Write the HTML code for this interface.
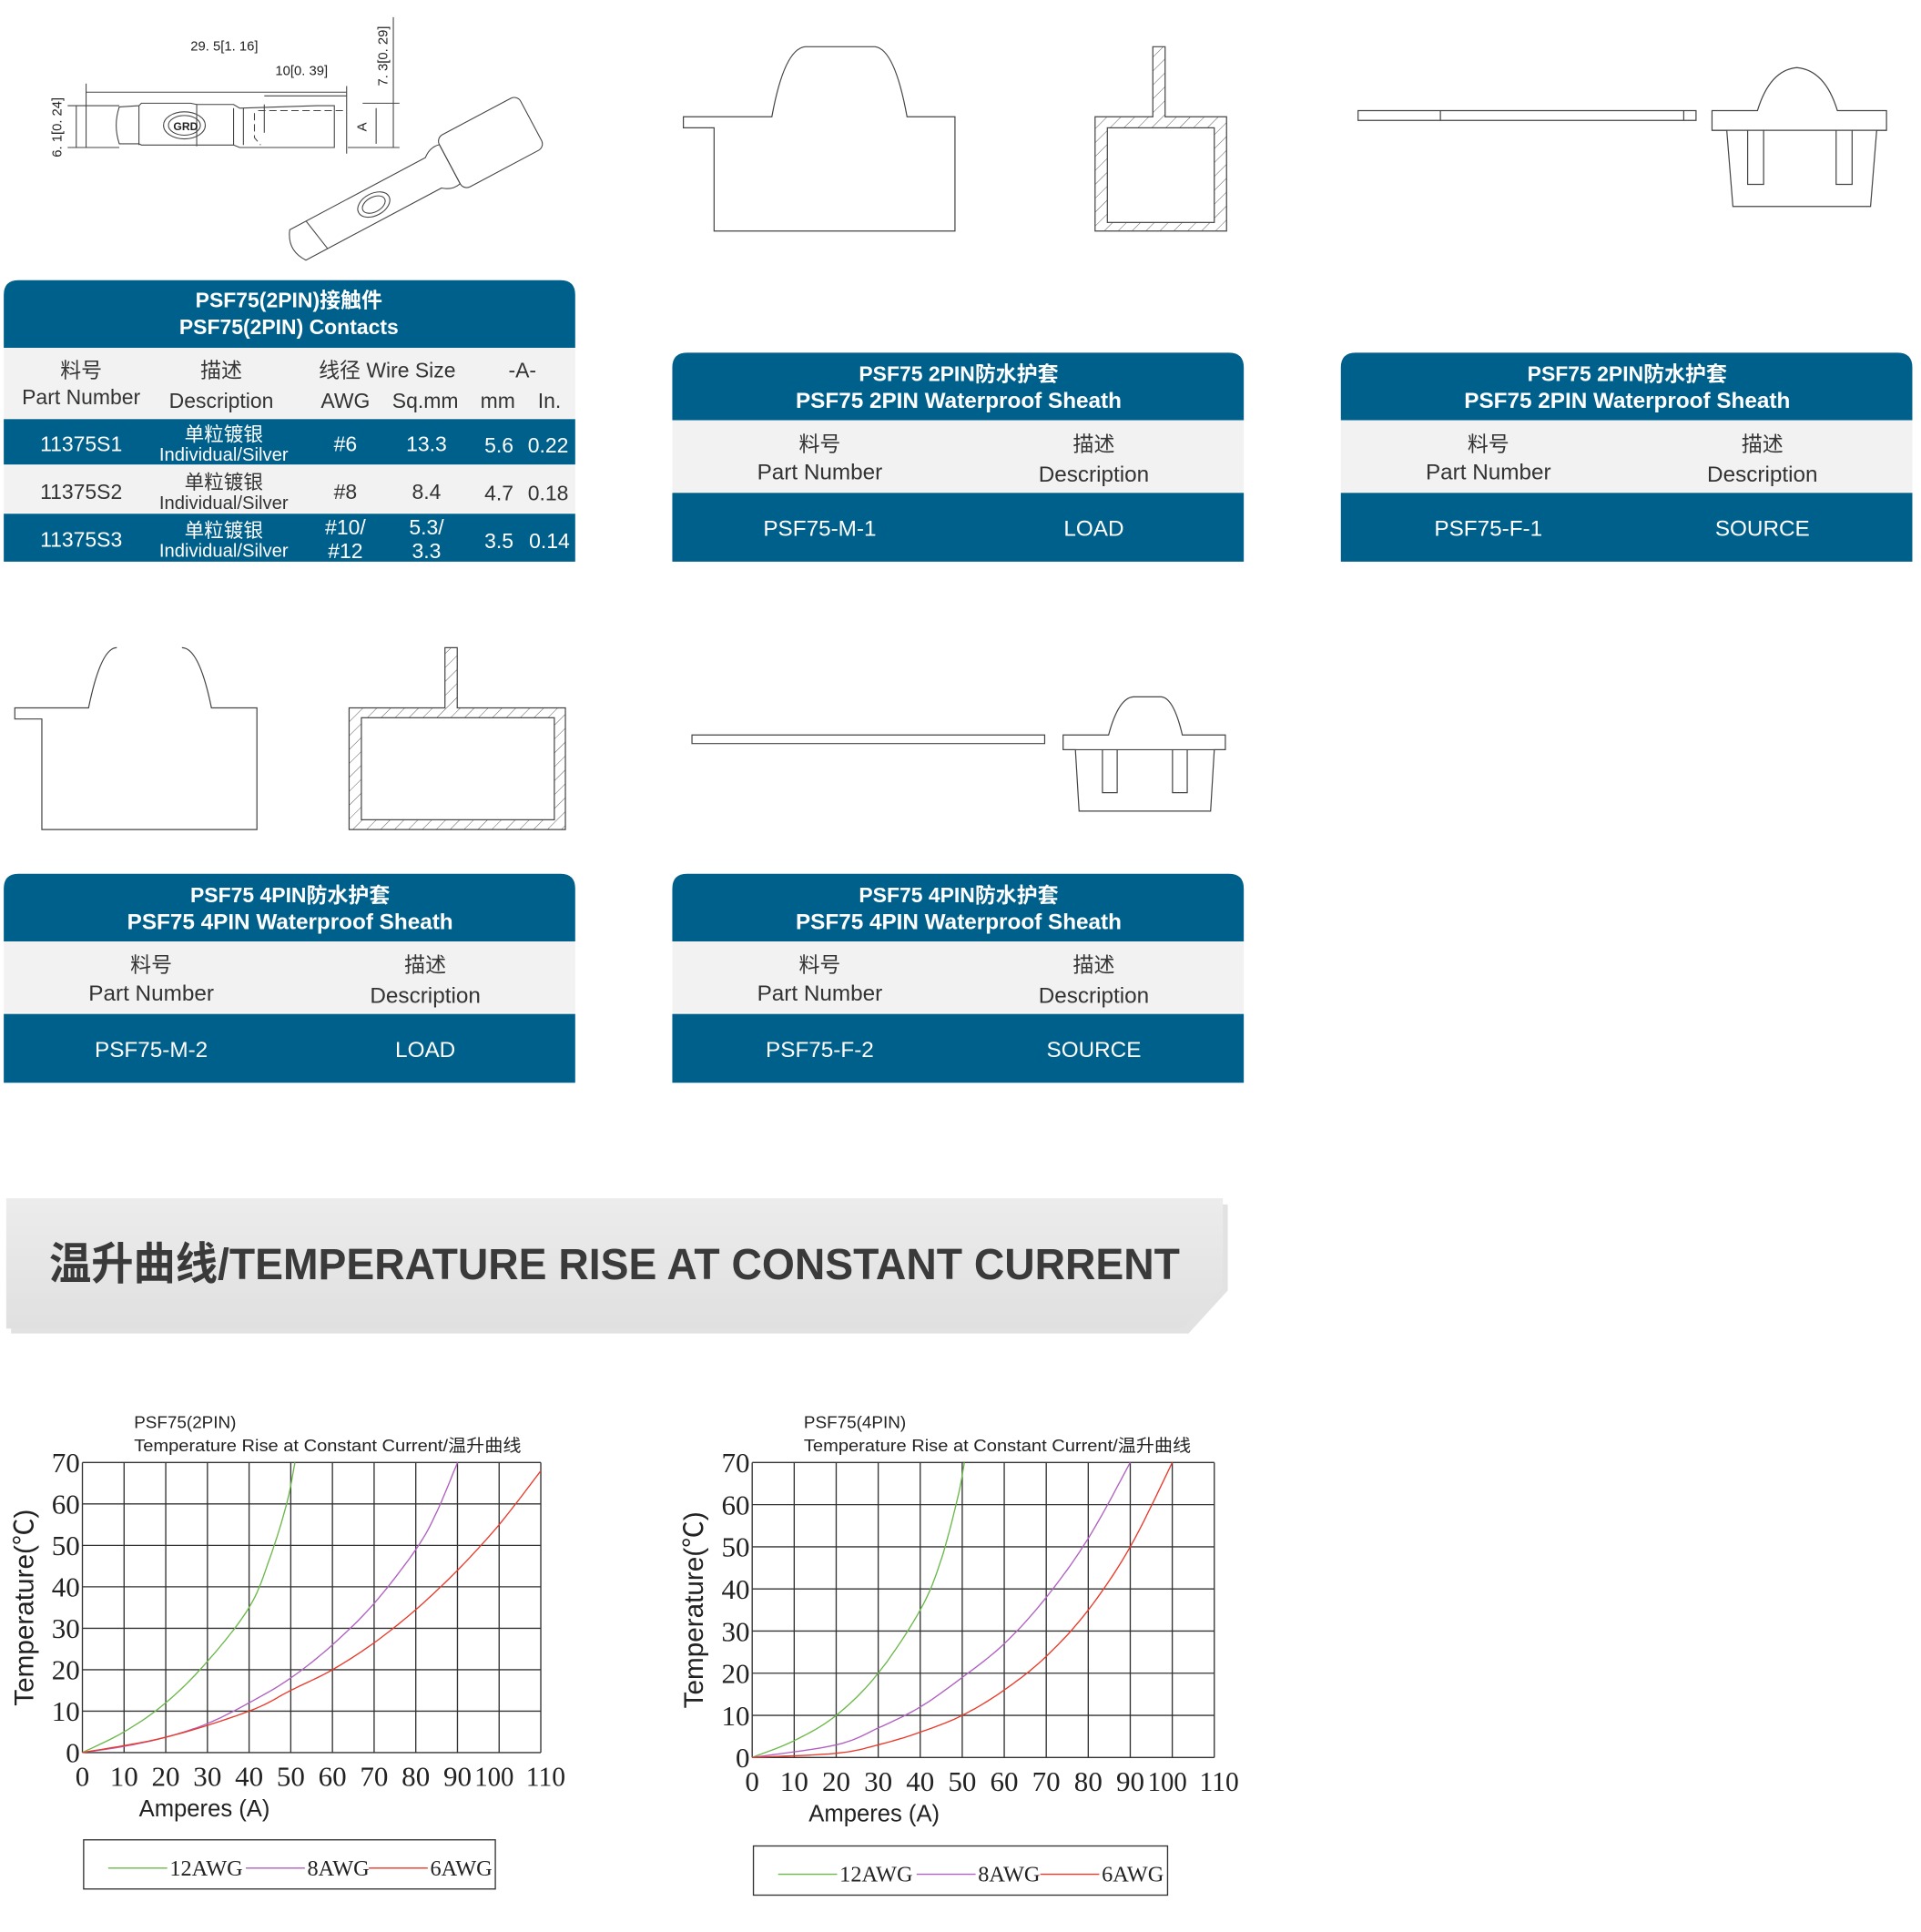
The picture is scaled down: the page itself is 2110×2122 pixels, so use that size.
<!DOCTYPE html>
<html><head><meta charset="utf-8"><style>
html,body{margin:0;padding:0;background:#fff}
svg{display:block}
.t{font-family:"Liberation Sans","Noto Sans CJK SC",sans-serif}
.s{font-family:"Liberation Serif","Noto Serif CJK SC",serif}
</style></head><body>
<svg id="sv" width="2110" height="2122" viewBox="0 0 1563 1572" xmlns="http://www.w3.org/2000/svg">
<defs>
<linearGradient id="bg" x1="0" y1="0" x2="0" y2="1"><stop offset="0" stop-color="#ececec"/><stop offset="1" stop-color="#e0e0e0"/></linearGradient>
<pattern id="hat" width="8" height="8" patternUnits="userSpaceOnUse" patternTransform="rotate(45)"><line x1="0" y1="0" x2="0" y2="8" stroke="#555" stroke-width="0.7"/></pattern>
</defs>
<g fill="none" stroke="#444" stroke-width="0.8">
<path d="M97 87 L113 86 L115 84 L155 84 L160 85 L190 85 L195 88 L258 86 L258 86 L272 86 L272 120 L195 120 L190 118 L115 118 L113 117 L97 117 Q92 102 97 87Z"/>
<line x1="113" y1="86" x2="113" y2="118"/><line x1="160" y1="85" x2="160" y2="119"/><line x1="190" y1="88" x2="190" y2="118"/><line x1="198" y1="88" x2="198" y2="118"/>
<path d="M210 90 L282 90 M207 92 L207 112 L212 118" stroke-dasharray="6 3"/>
<ellipse cx="150" cy="102" rx="17" ry="11"/><ellipse cx="150" cy="102" rx="13" ry="8"/>
<line x1="70" y1="68" x2="70" y2="120"/><line x1="70" y1="75" x2="282" y2="75"/><line x1="282" y1="70" x2="282" y2="125"/>
<line x1="215" y1="108" x2="215" y2="85"/><line x1="215" y1="78" x2="282" y2="78"/>
<line x1="55" y1="86" x2="97" y2="86"/><line x1="55" y1="120" x2="97" y2="120"/><line x1="62" y1="86" x2="62" y2="120"/>
<line x1="295" y1="84" x2="325" y2="84"/><line x1="283" y1="120" x2="325" y2="120"/><line x1="320" y1="14" x2="320" y2="120"/><line x1="306" y1="88" x2="306" y2="117"/>
<g transform="translate(335,150) rotate(-28)">
<path d="M-105 -14 L20 -14 Q27 -20 35 -18 L35 18 Q27 20 20 14 L-105 14 Q-115 0 -105 -14Z"/>
<rect x="35" y="-24" width="75" height="48" rx="6"/>
<ellipse cx="-35" cy="0" rx="14" ry="9"/><ellipse cx="-35" cy="0" rx="10" ry="6"/>
<line x1="-90" y1="-14" x2="-85" y2="14"/>
</g>
</g>
<g class="t" font-size="11" fill="#222">
<text x="155" y="41">29. 5[1. 16]</text><text x="224" y="61">10[0. 39]</text>
<text transform="translate(50,128) rotate(-90)">6. 1[0. 24]</text>
<text transform="translate(315,70) rotate(-90)">7. 3[0. 29]</text>
<text transform="translate(298,107) rotate(-90)">A</text>
<text x="141" y="106" font-size="9" font-weight="bold">GRD</text>
</g>
<g fill="none" stroke="#444" stroke-width="0.9">
<path d="M581 188 L581 104 L556 104 L556 95 L628 95 Q638 40 655 38 L712 38 Q728 40 738 95 L777 95 L777 188Z"/>
<path d="M891 188 L891 95 L938 95 L938 38 L948 38 L948 95 L998 95 L998 188Z" fill="url(#hat)"/>
<rect x="901" y="104" width="87" height="77" fill="#fff"/>
<path d="M1105 90 L1380 90 L1380 98 L1105 98Z M1172 90 L1172 98 M1370 90 L1370 98"/>
<path d="M1393 90 L1430 90 Q1440 57 1462 55 Q1485 57 1495 90 L1535 90 L1535 106 L1527 106 L1522 168 L1410 168 L1405 106 L1393 106Z"/>
<line x1="1393" y1="106" x2="1535" y2="106"/><path d="M1422 106 L1422 150 L1435 150 L1435 106 M1494 106 L1494 150 L1507 150 L1507 106"/>
<path d="M95 527 Q82 527 72 576 L12 576 L12 585 L34 585 L34 675 L209 675 L209 576 L172 576 Q162 527 148 527"/>
<path d="M284 675 L284 576 L362 576 L362 527 L372 527 L372 576 L460 576 L460 675Z" fill="url(#hat)"/>
<rect x="294" y="584" width="157" height="83" fill="#fff"/>
<path d="M563 598 L850 598 L850 605 L563 605Z"/>
<path d="M865 598 L902 598 Q910 568 922 567 L945 567 Q955 568 962 598 L997 598 L997 610 L988 610 L985 660 L878 660 L875 610 L865 610Z"/>
<line x1="865" y1="610" x2="997" y2="610"/><path d="M897 610 L897 645 L909 645 L909 610 M954 610 L954 645 L966 645 L966 610"/>
</g>
<g class="t" text-anchor="middle">
<path d="M3 283 L3 240 Q3 228 15 228 L456 228 Q468 228 468 240 L468 283Z" fill="#00608c"/>
<rect x="3" y="283" width="465" height="57" fill="#f2f2f2"/>
<rect x="3" y="341" width="465" height="37" fill="#00608c"/>
<rect x="3" y="379" width="465" height="38" fill="#f2f2f2"/>
<rect x="3" y="418" width="465" height="39" fill="#00608c"/>
<g fill="#fff" font-weight="bold" font-size="17"><text x="235" y="250">PSF75(2PIN)接触件</text><text x="235" y="272">PSF75(2PIN) Contacts</text></g>
<g fill="#333" font-size="17"><text x="66" y="307">料号</text><text x="66" y="329">Part Number</text><text x="180" y="307">描述</text><text x="180" y="332">Description</text><text x="315" y="307">线径 Wire Size</text><text x="281" y="332">AWG</text><text x="346" y="332">Sq.mm</text><text x="425" y="307">-A-</text><text x="405" y="332">mm</text><text x="447" y="332">In.</text></g>
<g font-size="17" fill="#fff"><text x="66" y="367">11375S1</text><text x="281" y="367">#6</text><text x="347" y="367">13.3</text><text x="406" y="368">5.6</text><text x="446" y="368">0.22</text>
<text x="182" y="359" font-size="16">单粒镀银</text><text x="182" y="375" font-size="15">Individual/Silver</text></g>
<g font-size="17" fill="#333"><text x="66" y="406">11375S2</text><text x="281" y="406">#8</text><text x="347" y="406">8.4</text><text x="406" y="407">4.7</text><text x="446" y="407">0.18</text>
<text x="182" y="398" font-size="16">单粒镀银</text><text x="182" y="414" font-size="15">Individual/Silver</text></g>
<g font-size="17" fill="#fff"><text x="66" y="445">11375S3</text><text x="281" y="435">#10/</text><text x="281" y="454">#12</text><text x="347" y="435">5.3/</text><text x="347" y="454">3.3</text><text x="406" y="446">3.5</text><text x="447" y="446">0.14</text>
<text x="182" y="437" font-size="16">单粒镀银</text><text x="182" y="453" font-size="15">Individual/Silver</text></g>
</g>
<g id="tb" class="t" text-anchor="middle"></g>
<path d="M9 980 L999 980 L999 1050 L967 1085 L9 1085Z" fill="#cfcfcf" opacity="0.6"/>
<path d="M5 975 L995 975 L995 1048 L962 1081 L5 1081Z" fill="url(#bg)"/>
<text x="40" y="1041" class="t" font-size="36" font-weight="bold" fill="#3a3a3a" textLength="920" lengthAdjust="spacingAndGlyphs">温升曲线/TEMPERATURE RISE AT CONSTANT CURRENT</text>
<g id="ch"></g>
</svg>
<script>
var NS="http://www.w3.org/2000/svg",sv=document.getElementById('sv');
function el(p,t,a,txt){var e=document.createElementNS(NS,t);for(var k in a)if(a[k]!=null)e.setAttribute(k,a[k]);if(txt!=null)e.textContent=txt;p.appendChild(e);return e;}
var tb=document.getElementById('tb');
function tbl(x,y,h1,h2,pn,ds){
 el(tb,'path',{d:'M'+x+' '+(y+55)+' L'+x+' '+(y+12)+' Q'+x+' '+y+' '+(x+12)+' '+y+' L'+(x+453)+' '+y+' Q'+(x+465)+' '+y+' '+(x+465)+' '+(y+12)+' L'+(x+465)+' '+(y+55)+'Z',fill:'#00608c'});
 el(tb,'rect',{x:x,y:y+55,width:465,height:58,fill:'#f2f2f2'});
 el(tb,'rect',{x:x,y:y+114,width:465,height:56,fill:'#00608c'});
 el(tb,'text',{x:x+233,y:y+23,fill:'#fff','font-weight':'bold','font-size':17},h1);
 el(tb,'text',{x:x+233,y:y+45,fill:'#fff','font-weight':'bold','font-size':18},h2);
 var a=x+120,b=x+343;
 el(tb,'text',{x:a,y:y+80,fill:'#333','font-size':17},'料号');el(tb,'text',{x:a,y:y+103,fill:'#333','font-size':18},'Part Number');
 el(tb,'text',{x:b,y:y+80,fill:'#333','font-size':17},'描述');el(tb,'text',{x:b,y:y+105,fill:'#333','font-size':18},'Description');
 el(tb,'text',{x:a,y:y+149,fill:'#fff','font-size':18},pn);el(tb,'text',{x:b,y:y+149,fill:'#fff','font-size':18},ds);
}
tbl(547,287,'PSF75 2PIN防水护套','PSF75 2PIN Waterproof Sheath','PSF75-M-1','LOAD');
tbl(1091,287,'PSF75 2PIN防水护套','PSF75 2PIN Waterproof Sheath','PSF75-F-1','SOURCE');
tbl(3,711,'PSF75 4PIN防水护套','PSF75 4PIN Waterproof Sheath','PSF75-M-2','LOAD');
tbl(547,711,'PSF75 4PIN防水护套','PSF75 4PIN Waterproof Sheath','PSF75-F-2','SOURCE');
var ch=document.getElementById('ch');
function chart(L,T,R,B,tx,lg,title,curves){
 var dx=(R-L)/11,dy=(B-T)/7;
 for(var i=0;i<=11;i++)el(ch,'line',{x1:L+i*dx,y1:T,x2:L+i*dx,y2:B,stroke:'#333','stroke-width':1});
 for(var j=0;j<=7;j++)el(ch,'line',{x1:L,y1:T+j*dy,x2:R,y2:T+j*dy,stroke:'#333','stroke-width':1});
 var cols=['#6bb84a','#b060c0','#e83a2a'];
 curves.forEach(function(c,k){var pts=c.map(function(p){return (L+p[0]/10*dx).toFixed(1)+','+(B-p[1]/10*dy).toFixed(1)}).join(' ');
  el(ch,'polyline',{points:pts,fill:'none',stroke:cols[k],'stroke-width':1,'stroke-linejoin':'round'});});
 for(var j=0;j<=7;j++){el(ch,'text',{x:L-2,y:B-j*dy+8,'text-anchor':'end','font-size':23,class:'s',fill:'#222'},String(j*10));}
 for(var i=0;i<=11;i++){el(ch,'text',{x:L+i*dx+(i>=10?(i==10?-4:4):0),y:B+27,'text-anchor':'middle','font-size':23,class:'s',fill:'#222','textLength':i>=10?32:null,'lengthAdjust':i>=10?'spacingAndGlyphs':null},String(i*10));}
 el(ch,'text',{x:tx,y:T-28,'font-size':14,class:'t',fill:'#222'},title);
 el(ch,'text',{x:tx,y:T-9,'font-size':14,class:'t',fill:'#222','textLength':315,'lengthAdjust':'spacingAndGlyphs'},'Temperature Rise at Constant Current/温升曲线');
 el(ch,'text',{x:tx+4,y:B+52,'font-size':19,class:'t',fill:'#222'},'Amperes (A)');
 el(ch,'text',{transform:'translate('+(L-40)+','+((T+B)/2)+') rotate(-90)','text-anchor':'middle','font-size':22,class:'t',fill:'#222'},'Temperature(℃)');
 el(ch,'rect',{x:lg[0],y:lg[1],width:lg[2],height:40,fill:'none',stroke:'#333','stroke-width':1});
 var names=['12AWG','8AWG','6AWG'],offs=[20,132,232];
 for(var k=0;k<3;k++){var xx=lg[0]+offs[k]*(lg[2]/335);
  el(ch,'line',{x1:xx,y1:lg[1]+23,x2:xx+48,y2:lg[1]+23,stroke:cols[k],'stroke-width':1});
  el(ch,'text',{x:xx+50,y:lg[1]+29,'font-size':18,class:'s',fill:'#222'},names[k]);}
}
var p=function(s){return s.split(' ').map(function(q){return q.split(',').map(Number)})};
function smooth(a){var out=[];for(var i=0;i<a.length-1;i++){var p0=a[Math.max(i-1,0)],p1=a[i],p2=a[i+1],p3=a[Math.min(i+2,a.length-1)];for(var t=0;t<1;t+=0.1){var t2=t*t,t3=t2*t;out.push([0,1].map(function(k){return 0.5*((2*p1[k])+(-p0[k]+p2[k])*t+(2*p0[k]-5*p1[k]+4*p2[k]-p3[k])*t2+(-p0[k]+3*p1[k]-3*p2[k]+p3[k])*t3)}));}}out.push(a[a.length-1]);return out;}
chart(67,1190,440,1426,109,[68,1497,335],'PSF75(2PIN)',[
 smooth(p('0,0 10,5 20,12 30,22 40,35 45,47 49,60 51,70')),
 smooth(p('0,0 10,1.5 20,3.7 30,7 40,12 50,18 60,26 70,36 80,49 85,58 90,70')),
 smooth(p('0,0 20,3.7 40,10 50,15 60,20 70,26.5 80,34.5 90,44 100,55 110,68'))]);
chart(612,1190,988,1430,654,[613,1502,337],'PSF75(4PIN)',[
 smooth(p('0,0 10,4 20,10 30,20 40,35 45,47 49,62 50.5,70')),
 smooth(p('0,0 20,3 30,7 40,12 50,19 60,27 70,38 80,52 90,70')),
 smooth(p('0,0 20,1 30,3 40,6 50,10 60,16 70,24 80,35 90,50 100,70'))]);
</script>
</body></html>
